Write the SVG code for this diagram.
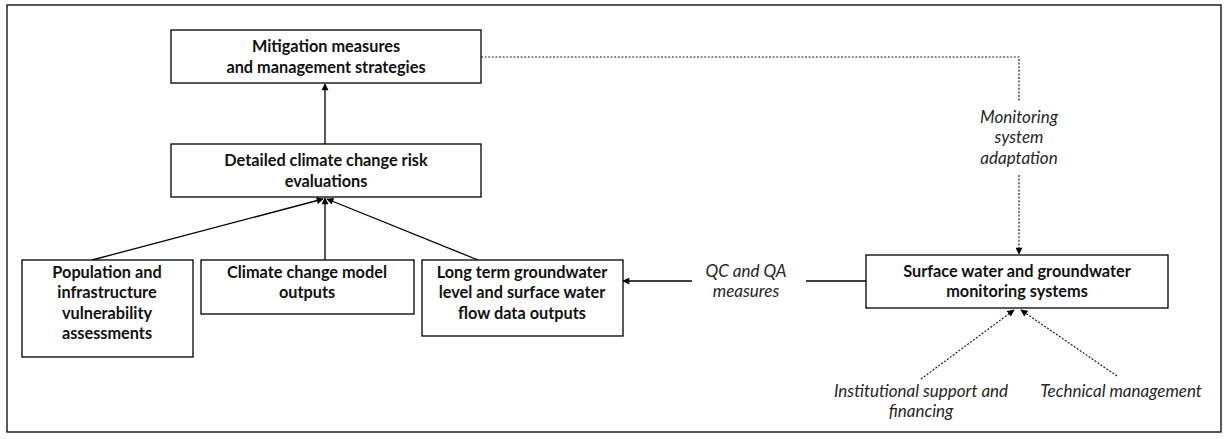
<svg xmlns="http://www.w3.org/2000/svg" width="1227" height="439" viewBox="0 0 1227 439">
  <style>
    .box { fill: #ffffff; stroke: #000000; stroke-width: 1.3; }
    .lbl { font-family: Lato, "Liberation Sans", sans-serif; font-weight: bold; font-size: 16.3px; fill: #111111; text-anchor: middle; }
    .note { font-family: Lato, "Liberation Sans", sans-serif; font-style: italic; font-size: 17px; fill: #262626; text-anchor: middle; }
    .solid { fill: none; stroke: #000000; stroke-width: 1.3; }
    .dash { fill: none; stroke: #1f1f1f; stroke-width: 1.2; stroke-dasharray: 2 1.6; }
  </style>
  <defs>
    <marker id="arrow" viewBox="0 0 10 10" refX="9" refY="5" markerWidth="8" markerHeight="7" markerUnits="userSpaceOnUse" orient="auto">
      <path d="M0,0 L10,5 L0,10 Z" fill="#000000"/>
    </marker>
  </defs>

  <rect x="0" y="0" width="1227" height="439" fill="#ffffff"/>
  <!-- outer frame -->
  <rect x="7" y="5" width="1214" height="427" fill="none" stroke="#000000" stroke-width="1.3"/>

  <g id="connectors">
    <line class="solid" x1="325" y1="144" x2="325" y2="84" marker-end="url(#arrow)"/>
    <line class="solid" x1="92" y1="260" x2="323" y2="199" marker-end="url(#arrow)"/>
    <line class="solid" x1="325" y1="260" x2="325" y2="198" marker-end="url(#arrow)"/>
    <line class="solid" x1="478" y1="260" x2="327" y2="199" marker-end="url(#arrow)"/>
    <line class="solid" x1="866" y1="281" x2="806" y2="281"/>
    <line class="solid" x1="692" y1="281" x2="623" y2="281" marker-end="url(#arrow)"/>
    <polyline class="dash" points="481,57 1019,57 1019,101"/>
    <line class="dash" x1="1019" y1="175" x2="1019" y2="254" marker-end="url(#arrow)"/>
    <line class="dash" x1="921" y1="379" x2="1014" y2="310" marker-end="url(#arrow)"/>
    <line class="dash" x1="1117" y1="376" x2="1021" y2="310" marker-end="url(#arrow)"/>
    <text class="note" x="1019" y="123">Monitoring</text>
    <text class="note" x="1019" y="143">system</text>
    <text class="note" x="1019" y="164">adaptation</text>
    <text class="note" x="746" y="277">QC and QA</text>
    <text class="note" x="746" y="297">measures</text>
    <text class="note" x="921" y="397">Institutional support and</text>
    <text class="note" x="921" y="417">financing</text>
    <text class="note" x="1121" y="397">Technical management</text>
  </g>

  <g id="mitigation">
    <rect class="box" x="171" y="30" width="310" height="53"/>
    <text class="lbl" x="326" y="52">Mitigation measures</text>
    <text class="lbl" x="326" y="73">and management strategies</text>
  </g>

  <g id="risk-evaluations">
    <rect class="box" x="171" y="144" width="310" height="53"/>
    <text class="lbl" x="326" y="166">Detailed climate change risk</text>
    <text class="lbl" x="326" y="187">evaluations</text>
  </g>

  <g id="vulnerability">
    <rect class="box" x="22" y="260" width="171" height="97"/>
    <text class="lbl" x="107" y="278">Population and</text>
    <text class="lbl" x="107" y="298">infrastructure</text>
    <text class="lbl" x="107" y="319">vulnerability</text>
    <text class="lbl" x="107" y="339">assessments</text>
  </g>

  <g id="climate-model">
    <rect class="box" x="201" y="260" width="213" height="54"/>
    <text class="lbl" x="307" y="278">Climate change model</text>
    <text class="lbl" x="307" y="298">outputs</text>
  </g>

  <g id="long-term-data">
    <rect class="box" x="422" y="260" width="201" height="76"/>
    <text class="lbl" x="522" y="278">Long term groundwater</text>
    <text class="lbl" x="522" y="298">level and surface water</text>
    <text class="lbl" x="522" y="319">flow data outputs</text>
  </g>

  <g id="monitoring-systems">
    <rect class="box" x="866" y="255" width="302" height="53"/>
    <text class="lbl" x="1017" y="277">Surface water and groundwater</text>
    <text class="lbl" x="1017" y="297">monitoring systems</text>
  </g>
</svg>
